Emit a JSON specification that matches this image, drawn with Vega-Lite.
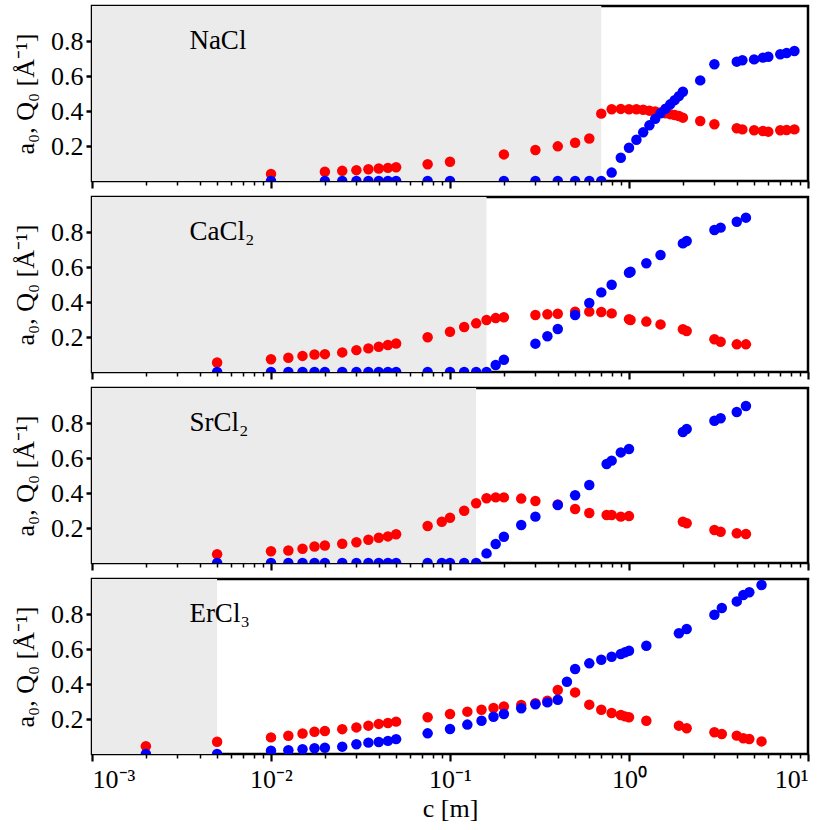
{
  "$schema": "https://vega.github.io/schema/vega-lite/v6.json",
  "description": "a0 and Q0 against concentration for four salts",
  "padding": {"left": 11, "top": 4, "right": 0, "bottom": 0},
  "background": "white",
  "datasets": {
    "panels": [
      {"salt": "NaCl", "lo": 0.001, "hi": 0.7, "label": "NaCl"},
      {"salt": "CaCl2", "lo": 0.001, "hi": 0.16, "label": "CaCl₂"},
      {"salt": "SrCl2", "lo": 0.001, "hi": 0.14, "label": "SrCl₂"},
      {"salt": "ErCl3", "lo": 0.001, "hi": 0.005, "label": "ErCl₃"}
    ],
    "pts": [
      {"salt": "NaCl", "c": 0.01, "a0": 0.04, "Q0": 0},
      {"salt": "NaCl", "c": 0.02, "a0": 0.053, "Q0": 0},
      {"salt": "NaCl", "c": 0.025, "a0": 0.058, "Q0": 0},
      {"salt": "NaCl", "c": 0.03, "a0": 0.062, "Q0": 0},
      {"salt": "NaCl", "c": 0.035, "a0": 0.067, "Q0": 0},
      {"salt": "NaCl", "c": 0.04, "a0": 0.071, "Q0": 0},
      {"salt": "NaCl", "c": 0.045, "a0": 0.075, "Q0": 0},
      {"salt": "NaCl", "c": 0.05, "a0": 0.079, "Q0": 0},
      {"salt": "NaCl", "c": 0.075, "a0": 0.096, "Q0": 0},
      {"salt": "NaCl", "c": 0.1, "a0": 0.11, "Q0": 0},
      {"salt": "NaCl", "c": 0.2, "a0": 0.152, "Q0": 0},
      {"salt": "NaCl", "c": 0.3, "a0": 0.177, "Q0": 0},
      {"salt": "NaCl", "c": 0.4, "a0": 0.198, "Q0": 0},
      {"salt": "NaCl", "c": 0.5, "a0": 0.219, "Q0": 0},
      {"salt": "NaCl", "c": 0.6, "a0": 0.243, "Q0": 0},
      {"salt": "NaCl", "c": 0.7, "a0": 0.385, "Q0": 0},
      {"salt": "NaCl", "c": 0.8, "a0": 0.41, "Q0": 0.048},
      {"salt": "NaCl", "c": 0.9, "a0": 0.412, "Q0": 0.133},
      {"salt": "NaCl", "c": 1.0, "a0": 0.41, "Q0": 0.19},
      {"salt": "NaCl", "c": 1.1, "a0": 0.41, "Q0": 0.236},
      {"salt": "NaCl", "c": 1.2, "a0": 0.407, "Q0": 0.278},
      {"salt": "NaCl", "c": 1.3, "a0": 0.402, "Q0": 0.318},
      {"salt": "NaCl", "c": 1.4, "a0": 0.397, "Q0": 0.355},
      {"salt": "NaCl", "c": 1.5, "a0": 0.392, "Q0": 0.387},
      {"salt": "NaCl", "c": 1.6, "a0": 0.387, "Q0": 0.413},
      {"salt": "NaCl", "c": 1.7, "a0": 0.382, "Q0": 0.438},
      {"salt": "NaCl", "c": 1.8, "a0": 0.377, "Q0": 0.462},
      {"salt": "NaCl", "c": 1.9, "a0": 0.371, "Q0": 0.485},
      {"salt": "NaCl", "c": 2.0, "a0": 0.362, "Q0": 0.51},
      {"salt": "NaCl", "c": 2.5, "a0": 0.343, "Q0": 0.575},
      {"salt": "NaCl", "c": 3.0, "a0": 0.324, "Q0": 0.667},
      {"salt": "NaCl", "c": 4.0, "a0": 0.301, "Q0": 0.682},
      {"salt": "NaCl", "c": 4.3, "a0": 0.295, "Q0": 0.69},
      {"salt": "NaCl", "c": 5.0, "a0": 0.29, "Q0": 0.695},
      {"salt": "NaCl", "c": 5.6, "a0": 0.286, "Q0": 0.705},
      {"salt": "NaCl", "c": 6.0, "a0": 0.282, "Q0": 0.71},
      {"salt": "NaCl", "c": 7.0, "a0": 0.29, "Q0": 0.724},
      {"salt": "NaCl", "c": 7.6, "a0": 0.291, "Q0": 0.731},
      {"salt": "NaCl", "c": 8.4, "a0": 0.295, "Q0": 0.743},

      {"salt": "CaCl2", "c": 0.005, "a0": 0.054, "Q0": 0},
      {"salt": "CaCl2", "c": 0.01, "a0": 0.073, "Q0": 0},
      {"salt": "CaCl2", "c": 0.0125, "a0": 0.081, "Q0": 0},
      {"salt": "CaCl2", "c": 0.015, "a0": 0.092, "Q0": 0},
      {"salt": "CaCl2", "c": 0.0175, "a0": 0.1, "Q0": 0},
      {"salt": "CaCl2", "c": 0.02, "a0": 0.102, "Q0": 0},
      {"salt": "CaCl2", "c": 0.025, "a0": 0.112, "Q0": 0},
      {"salt": "CaCl2", "c": 0.03, "a0": 0.125, "Q0": 0},
      {"salt": "CaCl2", "c": 0.035, "a0": 0.135, "Q0": 0},
      {"salt": "CaCl2", "c": 0.04, "a0": 0.144, "Q0": 0},
      {"salt": "CaCl2", "c": 0.045, "a0": 0.154, "Q0": 0},
      {"salt": "CaCl2", "c": 0.05, "a0": 0.163, "Q0": 0},
      {"salt": "CaCl2", "c": 0.075, "a0": 0.199, "Q0": 0},
      {"salt": "CaCl2", "c": 0.1, "a0": 0.23, "Q0": 0},
      {"salt": "CaCl2", "c": 0.12, "a0": 0.257, "Q0": 0},
      {"salt": "CaCl2", "c": 0.14, "a0": 0.278, "Q0": 0},
      {"salt": "CaCl2", "c": 0.16, "a0": 0.297, "Q0": 0},
      {"salt": "CaCl2", "c": 0.18, "a0": 0.308, "Q0": 0.04},
      {"salt": "CaCl2", "c": 0.2, "a0": 0.313, "Q0": 0.07},
      {"salt": "CaCl2", "c": 0.3, "a0": 0.326, "Q0": 0.162},
      {"salt": "CaCl2", "c": 0.35, "a0": 0.33, "Q0": 0.204},
      {"salt": "CaCl2", "c": 0.4, "a0": 0.333, "Q0": 0.246},
      {"salt": "CaCl2", "c": 0.5, "a0": 0.345, "Q0": 0.326},
      {"salt": "CaCl2", "c": 0.6, "a0": 0.345, "Q0": 0.394},
      {"salt": "CaCl2", "c": 0.7, "a0": 0.343, "Q0": 0.455},
      {"salt": "CaCl2", "c": 0.8, "a0": 0.335, "Q0": 0.499},
      {"salt": "CaCl2", "c": 1.0, "a0": 0.301, "Q0": 0.567},
      {"salt": "CaCl2", "c": 1.02, "a0": 0.297, "Q0": 0.573},
      {"salt": "CaCl2", "c": 1.25, "a0": 0.288, "Q0": 0.621},
      {"salt": "CaCl2", "c": 1.5, "a0": 0.272, "Q0": 0.669},
      {"salt": "CaCl2", "c": 2.0, "a0": 0.244, "Q0": 0.735},
      {"salt": "CaCl2", "c": 2.1, "a0": 0.234, "Q0": 0.749},
      {"salt": "CaCl2", "c": 3.0, "a0": 0.187, "Q0": 0.811},
      {"salt": "CaCl2", "c": 3.25, "a0": 0.173, "Q0": 0.825},
      {"salt": "CaCl2", "c": 4.0, "a0": 0.158, "Q0": 0.859},
      {"salt": "CaCl2", "c": 4.5, "a0": 0.158, "Q0": 0.882},

      {"salt": "SrCl2", "c": 0.005, "a0": 0.05, "Q0": 0},
      {"salt": "SrCl2", "c": 0.01, "a0": 0.067, "Q0": 0},
      {"salt": "SrCl2", "c": 0.0125, "a0": 0.071, "Q0": 0},
      {"salt": "SrCl2", "c": 0.015, "a0": 0.081, "Q0": 0},
      {"salt": "SrCl2", "c": 0.0175, "a0": 0.094, "Q0": 0},
      {"salt": "SrCl2", "c": 0.02, "a0": 0.1, "Q0": 0},
      {"salt": "SrCl2", "c": 0.025, "a0": 0.11, "Q0": 0},
      {"salt": "SrCl2", "c": 0.03, "a0": 0.119, "Q0": 0},
      {"salt": "SrCl2", "c": 0.035, "a0": 0.133, "Q0": 0},
      {"salt": "SrCl2", "c": 0.04, "a0": 0.144, "Q0": 0},
      {"salt": "SrCl2", "c": 0.045, "a0": 0.152, "Q0": 0},
      {"salt": "SrCl2", "c": 0.05, "a0": 0.164, "Q0": 0},
      {"salt": "SrCl2", "c": 0.075, "a0": 0.211, "Q0": 0},
      {"salt": "SrCl2", "c": 0.09, "a0": 0.236, "Q0": 0},
      {"salt": "SrCl2", "c": 0.1, "a0": 0.259, "Q0": 0},
      {"salt": "SrCl2", "c": 0.12, "a0": 0.299, "Q0": 0},
      {"salt": "SrCl2", "c": 0.14, "a0": 0.341, "Q0": 0},
      {"salt": "SrCl2", "c": 0.16, "a0": 0.37, "Q0": 0.055},
      {"salt": "SrCl2", "c": 0.18, "a0": 0.375, "Q0": 0.109},
      {"salt": "SrCl2", "c": 0.2, "a0": 0.375, "Q0": 0.15},
      {"salt": "SrCl2", "c": 0.25, "a0": 0.368, "Q0": 0.217},
      {"salt": "SrCl2", "c": 0.3, "a0": 0.354, "Q0": 0.265},
      {"salt": "SrCl2", "c": 0.4, "a0": 0.335, "Q0": 0.331},
      {"salt": "SrCl2", "c": 0.5, "a0": 0.309, "Q0": 0.387},
      {"salt": "SrCl2", "c": 0.6, "a0": 0.286, "Q0": 0.446},
      {"salt": "SrCl2", "c": 0.75, "a0": 0.274, "Q0": 0.566},
      {"salt": "SrCl2", "c": 0.8, "a0": 0.274, "Q0": 0.585},
      {"salt": "SrCl2", "c": 0.9, "a0": 0.265, "Q0": 0.632},
      {"salt": "SrCl2", "c": 1.0, "a0": 0.268, "Q0": 0.651},
      {"salt": "SrCl2", "c": 2.0, "a0": 0.236, "Q0": 0.749},
      {"salt": "SrCl2", "c": 2.1, "a0": 0.227, "Q0": 0.766},
      {"salt": "SrCl2", "c": 3.0, "a0": 0.189, "Q0": 0.813},
      {"salt": "SrCl2", "c": 3.25, "a0": 0.179, "Q0": 0.827},
      {"salt": "SrCl2", "c": 4.0, "a0": 0.17, "Q0": 0.863},
      {"salt": "SrCl2", "c": 4.5, "a0": 0.166, "Q0": 0.897},

      {"salt": "ErCl3", "c": 0.002, "a0": 0.044, "Q0": 0},
      {"salt": "ErCl3", "c": 0.005, "a0": 0.07, "Q0": 0},
      {"salt": "ErCl3", "c": 0.01, "a0": 0.095, "Q0": 0.019},
      {"salt": "ErCl3", "c": 0.0125, "a0": 0.104, "Q0": 0.021},
      {"salt": "ErCl3", "c": 0.015, "a0": 0.117, "Q0": 0.027},
      {"salt": "ErCl3", "c": 0.0175, "a0": 0.127, "Q0": 0.033},
      {"salt": "ErCl3", "c": 0.02, "a0": 0.131, "Q0": 0.036},
      {"salt": "ErCl3", "c": 0.025, "a0": 0.142, "Q0": 0.042},
      {"salt": "ErCl3", "c": 0.03, "a0": 0.152, "Q0": 0.056},
      {"salt": "ErCl3", "c": 0.035, "a0": 0.162, "Q0": 0.065},
      {"salt": "ErCl3", "c": 0.04, "a0": 0.172, "Q0": 0.069},
      {"salt": "ErCl3", "c": 0.045, "a0": 0.177, "Q0": 0.075},
      {"salt": "ErCl3", "c": 0.05, "a0": 0.185, "Q0": 0.085},
      {"salt": "ErCl3", "c": 0.075, "a0": 0.21, "Q0": 0.118},
      {"salt": "ErCl3", "c": 0.1, "a0": 0.229, "Q0": 0.143},
      {"salt": "ErCl3", "c": 0.125, "a0": 0.242, "Q0": 0.168},
      {"salt": "ErCl3", "c": 0.15, "a0": 0.253, "Q0": 0.19},
      {"salt": "ErCl3", "c": 0.175, "a0": 0.263, "Q0": 0.213},
      {"salt": "ErCl3", "c": 0.2, "a0": 0.272, "Q0": 0.229},
      {"salt": "ErCl3", "c": 0.25, "a0": 0.28, "Q0": 0.261},
      {"salt": "ErCl3", "c": 0.3, "a0": 0.29, "Q0": 0.284},
      {"salt": "ErCl3", "c": 0.35, "a0": 0.305, "Q0": 0.295},
      {"salt": "ErCl3", "c": 0.4, "a0": 0.366, "Q0": 0.31},
      {"salt": "ErCl3", "c": 0.45, "a0": null, "Q0": 0.413},
      {"salt": "ErCl3", "c": 0.5, "a0": 0.352, "Q0": 0.486},
      {"salt": "ErCl3", "c": 0.6, "a0": 0.282, "Q0": 0.518},
      {"salt": "ErCl3", "c": 0.7, "a0": 0.253, "Q0": 0.539},
      {"salt": "ErCl3", "c": 0.8, "a0": 0.234, "Q0": 0.556},
      {"salt": "ErCl3", "c": 0.9, "a0": 0.223, "Q0": 0.571},
      {"salt": "ErCl3", "c": 0.95, "a0": 0.215, "Q0": 0.581},
      {"salt": "ErCl3", "c": 1.0, "a0": 0.21, "Q0": 0.59},
      {"salt": "ErCl3", "c": 1.25, "a0": 0.19, "Q0": 0.619},
      {"salt": "ErCl3", "c": 1.9, "a0": 0.162, "Q0": 0.69},
      {"salt": "ErCl3", "c": 2.1, "a0": 0.147, "Q0": 0.714},
      {"salt": "ErCl3", "c": 3.0, "a0": 0.124, "Q0": 0.796},
      {"salt": "ErCl3", "c": 3.3, "a0": 0.114, "Q0": 0.834},
      {"salt": "ErCl3", "c": 4.0, "a0": 0.105, "Q0": 0.872},
      {"salt": "ErCl3", "c": 4.35, "a0": 0.09, "Q0": 0.908},
      {"salt": "ErCl3", "c": 4.7, "a0": 0.086, "Q0": 0.924},
      {"salt": "ErCl3", "c": 5.5, "a0": 0.072, "Q0": 0.966}
    ]
  },
  "spacing": 16,
  "bounds": "flush",
  "vconcat": [
    {
      "width": 716, "height": 175,
      "layer": [
        {
          "data": {"name": "panels"},
          "transform": [{"filter": "datum.salt === 'NaCl'"}],
          "mark": {"type": "rect", "color": "#ebebeb"},
          "encoding": {
            "x": {"field": "lo", "type": "quantitative"},
            "x2": {"field": "hi"}
          }
        },
        {
          "data": {"name": "pts"},
          "transform": [{"filter": "datum.salt === 'NaCl'"}],
          "mark": {"type": "point", "filled": true, "size": 110, "opacity": 1, "color": "#ff0000", "clip": true},
          "encoding": {
            "x": {
              "field": "c", "type": "quantitative",
              "scale": {"type": "log", "domain": [0.001, 10], "nice": false},
              "axis": {
                "title": null, "labels": false,
                "values": [0.001,0.002,0.003,0.004,0.005,0.006,0.007,0.008,0.009,0.01,0.02,0.03,0.04,0.05,0.06,0.07,0.08,0.09,0.1,0.2,0.3,0.4,0.5,0.6,0.7,0.8,0.9,1,2,3,4,5,6,7,8,9,10],
                "tickSize": {"condition": {"test": "indexof([0.001,0.01,0.1,1,10], datum.value) >= 0", "value": 7}, "value": 4},
                "tickWidth": {"condition": {"test": "indexof([0.001,0.01,0.1,1,10], datum.value) >= 0", "value": 2.2}, "value": 1.5}
              }
            },
            "y": {
              "field": "a0", "type": "quantitative",
              "scale": {"domain": [0, 1], "nice": false},
              "axis": {"title": "a₀, Q₀ [Å⁻¹]", "values": [0.2, 0.4, 0.6, 0.8]}
            }
          }
        },
        {
          "data": {"name": "pts"},
          "transform": [{"filter": "datum.salt === 'NaCl'"}],
          "mark": {"type": "point", "filled": true, "size": 110, "opacity": 1, "color": "#0000ff", "clip": true},
          "encoding": {
            "x": {"field": "c", "type": "quantitative"},
            "y": {"field": "Q0", "type": "quantitative"}
          }
        },
        {
          "data": {"name": "panels"},
          "transform": [{"filter": "datum.salt === 'NaCl'"}],
          "mark": {"type": "text", "align": "left", "baseline": "middle", "fontSize": 27, "font": "Liberation Serif", "color": "black"},
          "encoding": {
            "x": {"datum": 0.0035, "type": "quantitative"},
            "y": {"datum": 0.8, "type": "quantitative"},
            "text": {"field": "label", "type": "nominal"}
          }
        }
      ]
    },
    {
      "width": 716, "height": 175,
      "layer": [
        {
          "data": {"name": "panels"},
          "transform": [{"filter": "datum.salt === 'CaCl2'"}],
          "mark": {"type": "rect", "color": "#ebebeb"},
          "encoding": {
            "x": {"field": "lo", "type": "quantitative"},
            "x2": {"field": "hi"}
          }
        },
        {
          "data": {"name": "pts"},
          "transform": [{"filter": "datum.salt === 'CaCl2'"}],
          "mark": {"type": "point", "filled": true, "size": 110, "opacity": 1, "color": "#ff0000", "clip": true},
          "encoding": {
            "x": {
              "field": "c", "type": "quantitative",
              "scale": {"type": "log", "domain": [0.001, 10], "nice": false},
              "axis": {
                "title": null, "labels": false,
                "values": [0.001,0.002,0.003,0.004,0.005,0.006,0.007,0.008,0.009,0.01,0.02,0.03,0.04,0.05,0.06,0.07,0.08,0.09,0.1,0.2,0.3,0.4,0.5,0.6,0.7,0.8,0.9,1,2,3,4,5,6,7,8,9,10],
                "tickSize": {"condition": {"test": "indexof([0.001,0.01,0.1,1,10], datum.value) >= 0", "value": 7}, "value": 4},
                "tickWidth": {"condition": {"test": "indexof([0.001,0.01,0.1,1,10], datum.value) >= 0", "value": 2.2}, "value": 1.5}
              }
            },
            "y": {
              "field": "a0", "type": "quantitative",
              "scale": {"domain": [0, 1], "nice": false},
              "axis": {"title": "a₀, Q₀ [Å⁻¹]", "values": [0.2, 0.4, 0.6, 0.8]}
            }
          }
        },
        {
          "data": {"name": "pts"},
          "transform": [{"filter": "datum.salt === 'CaCl2'"}],
          "mark": {"type": "point", "filled": true, "size": 110, "opacity": 1, "color": "#0000ff", "clip": true},
          "encoding": {
            "x": {"field": "c", "type": "quantitative"},
            "y": {"field": "Q0", "type": "quantitative"}
          }
        },
        {
          "data": {"name": "panels"},
          "transform": [{"filter": "datum.salt === 'CaCl2'"}],
          "mark": {"type": "text", "align": "left", "baseline": "middle", "fontSize": 27, "font": "Liberation Serif", "color": "black"},
          "encoding": {
            "x": {"datum": 0.0035, "type": "quantitative"},
            "y": {"datum": 0.8, "type": "quantitative"},
            "text": {"field": "label", "type": "nominal"}
          }
        }
      ]
    },
    {
      "width": 716, "height": 175,
      "layer": [
        {
          "data": {"name": "panels"},
          "transform": [{"filter": "datum.salt === 'SrCl2'"}],
          "mark": {"type": "rect", "color": "#ebebeb"},
          "encoding": {
            "x": {"field": "lo", "type": "quantitative"},
            "x2": {"field": "hi"}
          }
        },
        {
          "data": {"name": "pts"},
          "transform": [{"filter": "datum.salt === 'SrCl2'"}],
          "mark": {"type": "point", "filled": true, "size": 110, "opacity": 1, "color": "#ff0000", "clip": true},
          "encoding": {
            "x": {
              "field": "c", "type": "quantitative",
              "scale": {"type": "log", "domain": [0.001, 10], "nice": false},
              "axis": {
                "title": null, "labels": false,
                "values": [0.001,0.002,0.003,0.004,0.005,0.006,0.007,0.008,0.009,0.01,0.02,0.03,0.04,0.05,0.06,0.07,0.08,0.09,0.1,0.2,0.3,0.4,0.5,0.6,0.7,0.8,0.9,1,2,3,4,5,6,7,8,9,10],
                "tickSize": {"condition": {"test": "indexof([0.001,0.01,0.1,1,10], datum.value) >= 0", "value": 7}, "value": 4},
                "tickWidth": {"condition": {"test": "indexof([0.001,0.01,0.1,1,10], datum.value) >= 0", "value": 2.2}, "value": 1.5}
              }
            },
            "y": {
              "field": "a0", "type": "quantitative",
              "scale": {"domain": [0, 1], "nice": false},
              "axis": {"title": "a₀, Q₀ [Å⁻¹]", "values": [0.2, 0.4, 0.6, 0.8]}
            }
          }
        },
        {
          "data": {"name": "pts"},
          "transform": [{"filter": "datum.salt === 'SrCl2'"}],
          "mark": {"type": "point", "filled": true, "size": 110, "opacity": 1, "color": "#0000ff", "clip": true},
          "encoding": {
            "x": {"field": "c", "type": "quantitative"},
            "y": {"field": "Q0", "type": "quantitative"}
          }
        },
        {
          "data": {"name": "panels"},
          "transform": [{"filter": "datum.salt === 'SrCl2'"}],
          "mark": {"type": "text", "align": "left", "baseline": "middle", "fontSize": 27, "font": "Liberation Serif", "color": "black"},
          "encoding": {
            "x": {"datum": 0.0035, "type": "quantitative"},
            "y": {"datum": 0.8, "type": "quantitative"},
            "text": {"field": "label", "type": "nominal"}
          }
        }
      ]
    },
    {
      "width": 716, "height": 175,
      "layer": [
        {
          "data": {"name": "panels"},
          "transform": [{"filter": "datum.salt === 'ErCl3'"}],
          "mark": {"type": "rect", "color": "#ebebeb"},
          "encoding": {
            "x": {"field": "lo", "type": "quantitative"},
            "x2": {"field": "hi"}
          }
        },
        {
          "data": {"name": "pts"},
          "transform": [{"filter": "datum.salt === 'ErCl3'"}],
          "mark": {"type": "point", "filled": true, "size": 110, "opacity": 1, "color": "#ff0000", "clip": true},
          "encoding": {
            "x": {
              "field": "c", "type": "quantitative",
              "scale": {"type": "log", "domain": [0.001, 10], "nice": false},
              "axis": {
                "title": "c [m]",
                "labelOverlap": false,
                "labelPadding": 5,
                "titlePadding": 3,
                "values": [0.001,0.002,0.003,0.004,0.005,0.006,0.007,0.008,0.009,0.01,0.02,0.03,0.04,0.05,0.06,0.07,0.08,0.09,0.1,0.2,0.3,0.4,0.5,0.6,0.7,0.8,0.9,1,2,3,4,5,6,7,8,9,10],
                "labelExpr": "datum.value == 0.001 ? '10⁻³' : datum.value == 0.01 ? '10⁻²' : datum.value == 0.1 ? '10⁻¹' : datum.value == 1 ? '10⁰' : datum.value == 10 ? '10¹' : ''",
                "tickSize": {"condition": {"test": "indexof([0.001,0.01,0.1,1,10], datum.value) >= 0", "value": 7}, "value": 4},
                "tickWidth": {"condition": {"test": "indexof([0.001,0.01,0.1,1,10], datum.value) >= 0", "value": 2.2}, "value": 1.5}
              }
            },
            "y": {
              "field": "a0", "type": "quantitative",
              "scale": {"domain": [0, 1], "nice": false},
              "axis": {"title": "a₀, Q₀ [Å⁻¹]", "values": [0.2, 0.4, 0.6, 0.8]}
            }
          }
        },
        {
          "data": {"name": "pts"},
          "transform": [{"filter": "datum.salt === 'ErCl3'"}],
          "mark": {"type": "point", "filled": true, "size": 110, "opacity": 1, "color": "#0000ff", "clip": true},
          "encoding": {
            "x": {"field": "c", "type": "quantitative"},
            "y": {"field": "Q0", "type": "quantitative"}
          }
        },
        {
          "data": {"name": "panels"},
          "transform": [{"filter": "datum.salt === 'ErCl3'"}],
          "mark": {"type": "text", "align": "left", "baseline": "middle", "fontSize": 27, "font": "Liberation Serif", "color": "black"},
          "encoding": {
            "x": {"datum": 0.0035, "type": "quantitative"},
            "y": {"datum": 0.8, "type": "quantitative"},
            "text": {"field": "label", "type": "nominal"}
          }
        }
      ]
    }
  ],
  "config": {
    "font": "Liberation Serif",
    "view": {"stroke": "black", "strokeWidth": 2.5},
    "axis": {
      "domain": false,
      "grid": false,
      "labelFont": "Liberation Serif",
      "labelFontSize": 26,
      "labelColor": "black",
      "titleFont": "Liberation Serif",
      "titleFontSize": 26,
      "titleFontWeight": "normal",
      "titleColor": "black",
      "tickColor": "black"
    },
    "axisY": {
      "tickSize": 6,
      "tickWidth": 2.5,
      "labelPadding": 3,
      "titlePadding": 12
    }
  }
}
